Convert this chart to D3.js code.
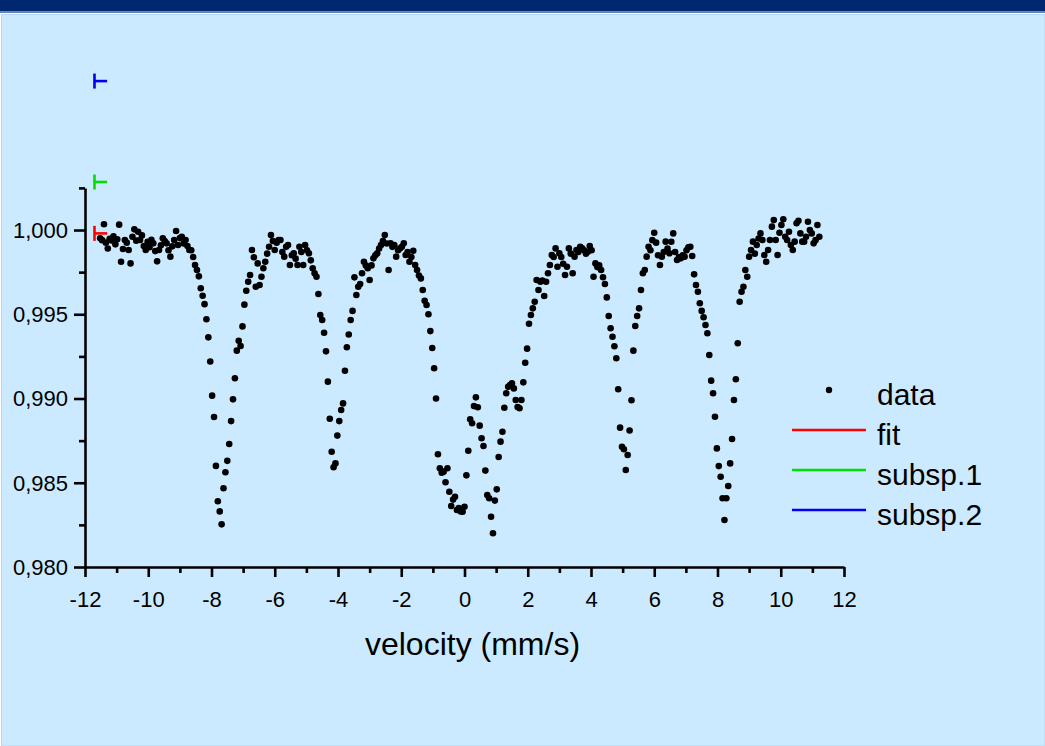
<!DOCTYPE html>
<html><head><meta charset="utf-8">
<script src="https://cdn.jsdelivr.net/npm/d3@7"></script>
<style>
html,body{margin:0;padding:0;background:#ffffff;}
svg{display:block;font-family:"Liberation Sans",Arial,sans-serif;}
</style>
</head><body>
<svg id="chart" width="1045" height="746"></svg>
<script>
// ---------------- data ----------------
const velocity = [
-11.52,-11.46,-11.40,-11.34,-11.28,-11.22,-11.16,-11.10,-11.04,-10.98,
-10.92,-10.86,-10.80,-10.74,-10.68,-10.62,-10.56,-10.50,-10.44,-10.38,
-10.32,-10.26,-10.20,-10.14,-10.08,-10.02,-9.96,-9.90,-9.84,-9.78,
-9.72,-9.66,-9.60,-9.54,-9.48,-9.42,-9.36,-9.30,-9.24,-9.18,
-9.12,-9.06,-9.00,-8.94,-8.88,-8.82,-8.76,-8.70,-8.64,-8.58,
-8.52,-8.46,-8.40,-8.34,-8.28,-8.22,-8.16,-8.10,-8.04,-7.98,
-7.92,-7.86,-7.80,-7.74,-7.68,-7.62,-7.56,-7.50,-7.44,-7.38,
-7.32,-7.26,-7.20,-7.14,-7.08,-7.02,-6.96,-6.90,-6.84,-6.78,
-6.72,-6.66,-6.60,-6.54,-6.48,-6.42,-6.36,-6.30,-6.24,-6.18,
-6.12,-6.06,-6.00,-5.94,-5.88,-5.82,-5.76,-5.70,-5.64,-5.58,
-5.52,-5.46,-5.40,-5.34,-5.28,-5.22,-5.16,-5.10,-5.04,-4.98,
-4.92,-4.86,-4.80,-4.74,-4.68,-4.62,-4.56,-4.50,-4.44,-4.38,
-4.32,-4.26,-4.20,-4.14,-4.08,-4.02,-3.96,-3.90,-3.84,-3.78,
-3.72,-3.66,-3.60,-3.54,-3.48,-3.42,-3.36,-3.30,-3.24,-3.18,
-3.12,-3.06,-3.00,-2.94,-2.88,-2.82,-2.76,-2.70,-2.64,-2.58,
-2.52,-2.46,-2.40,-2.34,-2.28,-2.22,-2.16,-2.10,-2.04,-1.98,
-1.92,-1.86,-1.80,-1.74,-1.68,-1.62,-1.56,-1.50,-1.44,-1.38,
-1.32,-1.26,-1.20,-1.14,-1.08,-1.02,-0.96,-0.90,-0.84,-0.78,
-0.72,-0.66,-0.60,-0.54,-0.48,-0.42,-0.36,-0.30,-0.24,-0.18,
-0.12,-0.06,0.00,0.06,0.12,0.18,0.24,0.30,0.36,0.42,
0.48,0.54,0.60,0.66,0.72,0.78,0.84,0.90,0.96,1.02,
1.08,1.14,1.20,1.26,1.32,1.38,1.44,1.50,1.56,1.62,
1.68,1.74,1.80,1.86,1.92,1.98,2.04,2.10,2.16,2.22,
2.28,2.34,2.40,2.46,2.52,2.58,2.64,2.70,2.76,2.82,
2.88,2.94,3.00,3.06,3.12,3.18,3.24,3.30,3.36,3.42,
3.48,3.54,3.60,3.66,3.72,3.78,3.84,3.90,3.96,4.02,
4.08,4.14,4.20,4.26,4.32,4.38,4.44,4.50,4.56,4.62,
4.68,4.74,4.80,4.86,4.92,4.98,5.04,5.10,5.16,5.22,
5.28,5.34,5.40,5.46,5.52,5.58,5.64,5.70,5.76,5.82,
5.88,5.94,6.00,6.06,6.12,6.18,6.24,6.30,6.36,6.42,
6.48,6.54,6.60,6.66,6.72,6.78,6.84,6.90,6.96,7.02,
7.08,7.14,7.20,7.26,7.32,7.38,7.44,7.50,7.56,7.62,
7.68,7.74,7.80,7.86,7.92,7.98,8.04,8.10,8.16,8.22,
8.28,8.34,8.40,8.46,8.52,8.58,8.64,8.70,8.76,8.82,
8.88,8.94,9.00,9.06,9.12,9.18,9.24,9.30,9.36,9.42,
9.48,9.54,9.60,9.66,9.72,9.78,9.84,9.90,9.96,10.02,
10.08,10.14,10.20,10.26,10.32,10.38,10.44,10.50,10.56,10.62,
10.68,10.74,10.80,10.86,10.92,10.98,11.04,11.10,11.16,11.22
];
const transmission = [
0.99951,0.99940,1.00034,0.99925,0.99890,0.99948,0.99938,0.99962,0.99915,0.99945,
1.00032,0.99812,0.99887,0.99941,0.99925,0.99881,0.99802,0.99960,1.00004,0.99937,
0.99990,0.99941,0.99968,0.99905,0.99881,0.99930,0.99898,0.99942,0.99921,0.99875,
0.99814,0.99881,0.99910,0.99951,0.99935,0.99921,0.99880,0.99842,0.99903,0.99941,
0.99994,0.99911,0.99952,0.99960,0.99920,0.99941,0.99905,0.99881,0.99880,0.99840,
0.99792,0.99763,0.99725,0.99654,0.99610,0.99560,0.99470,0.99363,0.99220,0.99017,
0.98890,0.98600,0.98390,0.98330,0.98253,0.98467,0.98562,0.98630,0.98730,0.98866,
0.98995,0.99120,0.99284,0.99343,0.99312,0.99428,0.99557,0.99640,0.99693,0.99733,
0.99881,0.99838,0.99663,0.99802,0.99674,0.99723,0.99773,0.99812,0.99860,0.99901,
0.99970,0.99935,0.99881,0.99925,0.99941,0.99941,0.99870,0.99842,0.99900,0.99911,
0.99792,0.99850,0.99862,0.99830,0.99792,0.99901,0.99870,0.99792,0.99911,0.99880,
0.99862,0.99820,0.99773,0.99743,0.99723,0.99620,0.99496,0.99466,0.99390,0.99280,
0.99100,0.98880,0.98684,0.98592,0.98615,0.98780,0.98866,0.98932,0.98971,0.99165,
0.99304,0.99380,0.99466,0.99520,0.99719,0.99614,0.99663,0.99680,0.99743,0.99812,
0.99790,0.99773,0.99703,0.99790,0.99832,0.99850,0.99862,0.99890,0.99911,0.99935,
0.99970,0.99920,0.99763,0.99921,0.99900,0.99911,0.99842,0.99880,0.99891,0.99900,
0.99921,0.99852,0.99870,0.99812,0.99840,0.99877,0.99792,0.99763,0.99730,0.99713,
0.99644,0.99580,0.99555,0.99500,0.99400,0.99300,0.99180,0.99000,0.98669,0.98586,
0.98560,0.98566,0.98503,0.98586,0.98447,0.98362,0.98400,0.98417,0.98338,0.98350,
0.98330,0.98328,0.98358,0.98544,0.98690,0.98877,0.98853,0.98955,0.99007,0.98948,
0.98839,0.98764,0.98718,0.98572,0.98427,0.98408,0.98298,0.98200,0.98394,0.98461,
0.98653,0.98744,0.98803,0.98945,0.99031,0.99070,0.99080,0.99090,0.99060,0.98991,
0.98950,0.98942,0.98991,0.99096,0.99212,0.99296,0.99444,0.99496,0.99535,0.99574,
0.99703,0.99644,0.99693,0.99700,0.99608,0.99693,0.99743,0.99792,0.99852,0.99840,
0.99891,0.99782,0.99862,0.99840,0.99800,0.99733,0.99782,0.99891,0.99860,0.99743,
0.99842,0.99881,0.99870,0.99900,0.99891,0.99880,0.99860,0.99871,0.99905,0.99880,
0.99723,0.99802,0.99780,0.99790,0.99763,0.99720,0.99680,0.99600,0.99490,0.99417,
0.99367,0.99310,0.99239,0.99055,0.98827,0.98714,0.98699,0.98576,0.98665,0.98810,
0.98990,0.99284,0.99430,0.99490,0.99535,0.99644,0.99743,0.99763,0.99842,0.99901,
0.99880,0.99940,0.99984,0.99925,0.99850,0.99792,0.99842,0.99870,0.99931,0.99890,
0.99862,0.99930,0.99980,0.99870,0.99822,0.99840,0.99832,0.99850,0.99842,0.99880,
0.99897,0.99901,0.99846,0.99737,0.99674,0.99634,0.99565,0.99520,0.99482,0.99436,
0.99387,0.99258,0.99106,0.99031,0.98892,0.98704,0.98599,0.98536,0.98408,0.98279,
0.98408,0.98481,0.98615,0.98760,0.98991,0.99114,0.99328,0.99574,0.99634,0.99663,
0.99763,0.99723,0.99842,0.99881,0.99931,0.99860,0.99911,0.99950,0.99980,0.99941,
0.99852,0.99812,0.99881,0.99941,1.00020,1.00059,0.99941,0.99852,0.99984,1.00030,
1.00064,0.99960,0.99941,0.99990,0.99911,0.99881,0.99931,1.00040,1.00055,0.99980,
0.99931,0.99931,0.99960,1.00049,1.00000,0.99980,0.99921,0.99940,1.00030,0.99960
];
// fitted curves: only their start markers are visible (baseline level of each curve)
const curveNames = ["fit", "subsp.1", "subsp.2"];
const curveBaselines = [0.99980, 1.00285, 1.00884];
const curveStartVelocity = -11.70;
const curveStubVelocity = -11.30;

const xMajorTicks = [-12,-10,-8,-6,-4,-2,0,2,4,6,8,10,12];
const xMinorTicks = [-11,-9,-7,-5,-3,-1,1,3,5,7,9,11];
const yMajorTicks = [0.980,0.985,0.990,0.995,1.000];
const yTickLabels = ["0,980","0,985","0,990","0,995","1,000"];
const yMinorTicks = [0.9825,0.9875,0.9925,0.9975,1.0025];
const xTitle = "velocity (mm/s)";
const legendLabels = ["data","fit","subsp.1","subsp.2"];

// ---------------- styles ----------------
const curveColors = ["#ff0000","#00e000","#0000ee"];
const panelColor = "#cceaff";
const barColor = "#00286e";

// ---------------- drawing ----------------
const svg = d3.select("#chart");
svg.append("rect").attr("x",0).attr("y",0).attr("width",1045).attr("height",746).attr("fill","#ffffff");
svg.append("rect").attr("x",0).attr("y",0).attr("width",1045).attr("height",11.5).attr("fill",barColor);
svg.append("rect").attr("x",0).attr("y",11.5).attr("width",1045).attr("height",1.5).attr("fill","#5d7fbf");
svg.append("rect").attr("x",1.5).attr("y",14.5).attr("width",1043.5).attr("height",731.5)
   .attr("fill",panelColor).attr("stroke","#b9d6ea").attr("stroke-width",1);

const x = d3.scaleLinear().domain([-12, 12]).range([85, 844]);
const y = d3.scaleLinear().domain([0.980, 1.0025]).range([567, 187.9]);

const axW = 2.6;
// X axis
const gx = svg.append("g").attr("transform","translate(0,567)");
gx.call(d3.axisBottom(x).tickValues(xMajorTicks).tickSize(10).tickSizeOuter(0).tickPadding(14)
   .tickFormat(d => d3.format("d")(d).replace("\u2212","-")));
const gxm = svg.append("g").attr("transform","translate(0,567)");
gxm.call(d3.axisBottom(x).tickValues(xMinorTicks).tickSize(6).tickSizeOuter(0).tickFormat(""));
gxm.select(".domain").remove();

// Y axis
const gy = svg.append("g").attr("transform","translate(85,0)");
gy.call(d3.axisLeft(y).tickValues(yMajorTicks).tickSize(11).tickSizeOuter(0).tickPadding(6)
   .tickFormat((d,i) => yTickLabels[i]));
const gym = svg.append("g").attr("transform","translate(85,0)");
gym.call(d3.axisLeft(y).tickValues(yMinorTicks).tickSize(6).tickSizeOuter(0).tickFormat(""));
gym.select(".domain").remove();

svg.selectAll(".domain, .tick line").attr("stroke","#000").attr("stroke-width",axW);
svg.selectAll(".tick text").attr("fill","#000").attr("font-size",22)
   .attr("font-family","'Liberation Sans',Arial,sans-serif");
gy.selectAll(".tick text").attr("dy","0.34em");

// axis title
svg.append("text").attr("x",(x(-12)+x(12))/2 + 8).attr("y",655)
   .attr("text-anchor","middle").attr("font-size",32).attr("fill","#000").text(xTitle);

// fitted-curve start markers
const cap = svg.append("g");
curveBaselines.forEach((b,i) => {
  const yy = y(b);
  cap.append("line").attr("x1",x(curveStartVelocity)).attr("x2",x(curveStartVelocity))
     .attr("y1",yy-7.5).attr("y2",yy+7.5).attr("stroke",curveColors[i]).attr("stroke-width",2.6);
  cap.append("line").attr("x1",x(curveStartVelocity)).attr("x2",x(curveStubVelocity))
     .attr("y1",yy).attr("y2",yy).attr("stroke",curveColors[i]).attr("stroke-width",2.6);
});

// data points
const pts = velocity.map((v,i) => ({v, t: transmission[i]}));
svg.append("g").selectAll("circle").data(pts).join("circle")
   .attr("cx", d => x(d.v)).attr("cy", d => y(d.t)).attr("r",3.3).attr("fill","#000");

// legend
const lg = svg.append("g").attr("font-size",30).attr("fill","#000");
lg.append("circle").attr("cx",829).attr("cy",390).attr("r",3.2).attr("fill","#000");
const rowsY = [390, 430, 470, 510];
legendLabels.forEach((lab,i) => {
  lg.append("text").attr("x",877).attr("y",rowsY[i]+15).text(lab);
  if (i > 0) {
    lg.append("line").attr("x1",792).attr("x2",866).attr("y1",rowsY[i]).attr("y2",rowsY[i])
      .attr("stroke",curveColors[i-1]).attr("stroke-width",2.6);
  }
});
</script>
</body></html>
